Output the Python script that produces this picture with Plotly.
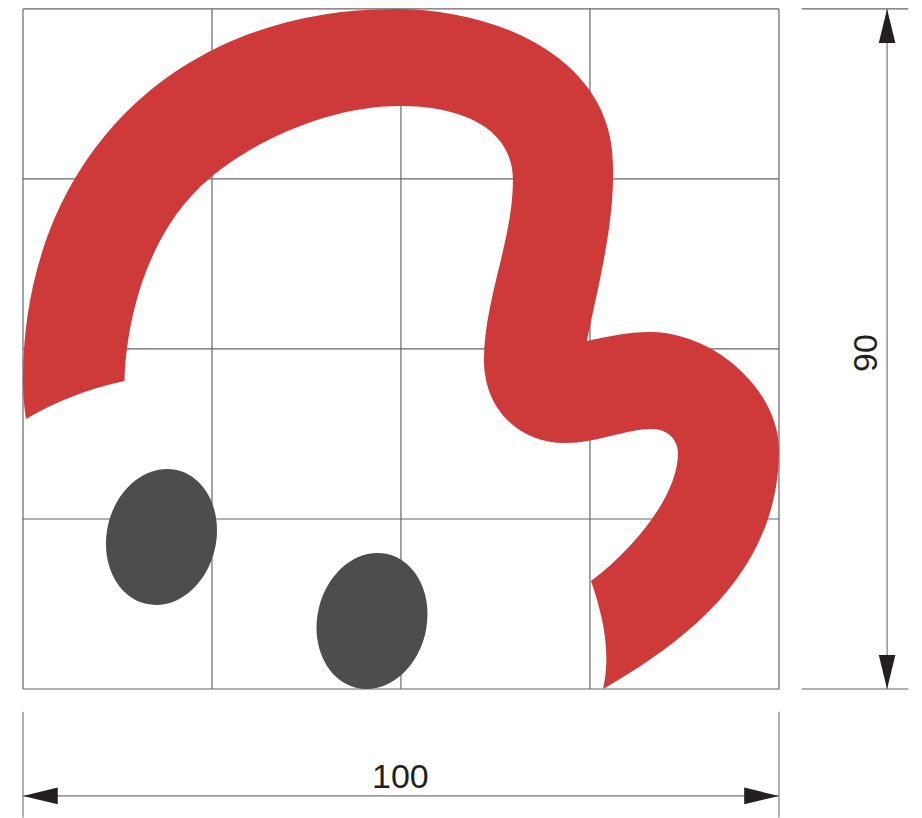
import math
import plotly.graph_objects as go

# Chart units: width 100, height 90
width_label = "100"
height_label = "90"
grid_x = [0, 25, 50, 75, 100]
grid_y = [0, 22.5, 45, 67.5, 90]

# Red stroke outline: start point, then (control, control, end) triples of cubic curves
stroke_x = [76.72,
            88.0, 100.0, 100.0,
            100.0, 91.40, 82.94,
            80.03, 76.98, 74.60,
            75.93, 78.30, 78.04,
            78.04, 63.10, 49.21,
            19.44, 0.0, 0.0,
            0.0, 0.13, 0.40,
            4.23, 8.86, 13.43,
            13.62, 16.14, 24.74,
            30.69, 40.61, 49.87,
            58.47, 64.81, 64.81,
            64.81, 60.98, 60.98,
            60.98, 65.74, 71.69,
            76.06, 79.63, 83.20,
            85.32, 86.64, 86.64,
            86.64, 80.95, 75.13,
            76.85, 77.78, 76.72]
stroke_y = [0.0,
            6.48, 15.75, 31.63,
            39.57, 47.25, 47.25,
            47.25, 46.59, 46.06,
            52.81, 61.41, 69.35,
            83.25, 90.0, 90.0,
            90.0, 69.35, 40.89,
            39.17, 37.45, 35.73,
            37.98, 39.84, 40.76,
            48.17, 60.48, 67.63,
            72.66, 77.16, 77.16,
            77.16, 73.98, 67.36,
            59.42, 51.48, 43.54,
            36.92, 32.56, 32.56,
            32.56, 34.41, 34.41,
            34.41, 32.95, 31.23,
            25.67, 18.66, 14.29,
            9.40, 4.50, 0.0]

# Grey ovals
oval_cx = [18.32, 46.17]
oval_cy = [20.12, 9.0]
oval_major = 9.08
oval_minor = 7.24
oval_tilt_deg = 12.9

RED = "#CE3A3A"
DARK = "#4D4D4D"
GRID = "#666666"
DIM = "#777777"
ARROW = "#231F20"


def cubic_path(xs, ys):
    out = f"M {xs[0]},{ys[0]}"
    for i in range(1, len(xs), 3):
        out += f" C {xs[i]},{ys[i]} {xs[i+1]},{ys[i+1]} {xs[i+2]},{ys[i+2]}"
    return out + " Z"


def oval_path(cx, cy):
    k = 0.5523
    t = math.radians(oval_tilt_deg)

    def pt(u, v):  # u along minor axis, v along major axis
        px = cx + u * oval_minor * math.cos(t) + v * oval_major * math.sin(t)
        py = cy - u * oval_minor * math.sin(t) + v * oval_major * math.cos(t)
        return f"{px:.3f},{py:.3f}"

    return (f"M {pt(0, 1)} C {pt(k, 1)} {pt(1, k)} {pt(1, 0)} C {pt(1, -k)} {pt(k, -1)} {pt(0, -1)}"
            f" C {pt(-k, -1)} {pt(-1, -k)} {pt(-1, 0)} C {pt(-1, k)} {pt(-k, 1)} {pt(0, 1)} Z")


fig = go.Figure()


def line(xs, ys, color=DIM, width=1.2):
    fig.add_trace(go.Scatter(x=xs, y=ys, mode="lines", line=dict(color=color, width=width),
                             hoverinfo="skip", showlegend=False))


for gx in grid_x:
    line([gx, gx], [grid_y[0], grid_y[-1]], GRID)
for gy in grid_y:
    line([grid_x[0], grid_x[-1]], [gy, gy], GRID)

# dimension lines
line([0, 0], [-3.0, -17.0])
line([100, 100], [-3.0, -17.0])
line([0, 100], [-14.15, -14.15])
line([103, 117.1], [90, 90], GRID)
line([103, 117.1], [0, 0], GRID)
line([114.3, 114.3], [0, 90])


def arrow(xs, ys):
    fig.add_trace(go.Scatter(x=xs, y=ys, mode="lines", fill="toself", fillcolor=ARROW,
                             line=dict(color=ARROW, width=0), hoverinfo="skip", showlegend=False))


arrow([0, 4.6, 4.6, 0], [-14.15, -13.05, -15.25, -14.15])
arrow([100, 95.4, 95.4, 100], [-14.15, -13.05, -15.25, -14.15])
arrow([114.3, 113.2, 115.4, 114.3], [90, 85.5, 85.5, 90])
arrow([114.3, 113.2, 115.4, 114.3], [0, 4.5, 4.5, 0])

shapes = [dict(type="path", path=cubic_path(stroke_x, stroke_y), xref="x", yref="y",
               fillcolor=RED, line=dict(width=0))]
for cx, cy in zip(oval_cx, oval_cy):
    shapes.append(dict(type="path", path=oval_path(cx, cy), xref="x", yref="y",
                       fillcolor=DARK, line=dict(width=0)))

FONT = dict(family="Liberation Sans, Arial, sans-serif", size=34, color="#231F20")
annotations = [
    dict(x=50, y=-11.5, text=width_label, showarrow=False, font=FONT, xanchor="center", yanchor="middle"),
    dict(x=111.4, y=44.5, text=height_label, showarrow=False, font=FONT, textangle=-90, xanchor="center", yanchor="middle"),
]

fig.update_layout(
    width=922, height=818,
    margin=dict(l=0, r=0, t=0, b=0),
    paper_bgcolor="white", plot_bgcolor="white",
    xaxis=dict(range=[-3.04, 118.92], visible=False, fixedrange=True),
    yaxis=dict(range=[-17.07, 91.18], visible=False, fixedrange=True),
    shapes=shapes, annotations=annotations, showlegend=False,
)
fig.write_html("out.html", config=dict(displayModeBar=False), post_script="document.body.style.margin='0';")
